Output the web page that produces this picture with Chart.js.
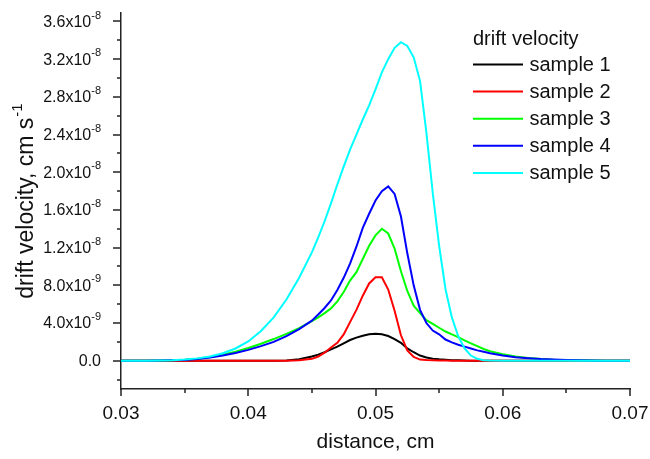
<!DOCTYPE html>
<html>
<head>
<meta charset="utf-8">
<script src="https://cdn.jsdelivr.net/npm/chart.js@4.4.1/dist/chart.umd.min.js"></script>
<style>
  body { margin: 0; background: #fff; }
  #chart { display: block; }
</style>
</head>
<body>
<canvas id="chart" width="650" height="459"></canvas>
<script>
// ---- data (velocity values in units of 1e-9 cm/s) ----
const distance = [0.030, 0.032, 0.034, 0.035, 0.036, 0.037, 0.038, 0.039, 0.040, 0.041,
  0.042, 0.043, 0.044, 0.045, 0.0455, 0.046, 0.0465, 0.047, 0.0475, 0.048,
  0.0485, 0.049, 0.0495, 0.050, 0.0505, 0.051, 0.0515, 0.052, 0.0525, 0.053,
  0.0535, 0.054, 0.0545, 0.055, 0.0555, 0.056, 0.0565, 0.057, 0.0575, 0.058,
  0.0585, 0.059, 0.060, 0.061, 0.062, 0.063, 0.064, 0.065, 0.066, 0.067,
  0.068, 0.070];

const sample1 = [0, 0, 0, 0, 0, 0, 0, 0, 0, 0,
  0.01, 0.03, 0.15, 0.45, 0.65, 0.9, 1.2, 1.5, 1.85, 2.2,
  2.45, 2.65, 2.8, 2.86, 2.8, 2.62, 2.3, 1.9, 1.3, 0.9,
  0.55, 0.35, 0.22, 0.15, 0.1, 0.06, 0.04, 0.02, 0.01, 0,
  0, 0, 0, 0, 0, 0, 0, 0, 0, 0,
  0, 0];

const sample2 = [0, 0, 0, 0, 0, 0, 0, 0, 0, 0,
  0, 0, 0.05, 0.2, 0.45, 0.85, 1.4, 1.9, 2.8, 4.1,
  5.4, 6.9, 8.2, 8.85, 8.85, 7.55, 5.3, 2.7, 1.1, 0.4,
  0.12, 0.07, 0.05, 0.03, 0.02, 0.01, 0, 0, 0, 0,
  0, 0, 0, 0, 0, 0, 0, 0, 0, 0,
  0, 0];

const sample3 = [0, 0.01, 0.05, 0.1, 0.22, 0.4, 0.65, 0.95, 1.35, 1.8,
  2.3, 2.85, 3.45, 4.2, 4.6, 5.05, 5.55, 6.3, 7.3, 8.5,
  9.4, 10.8, 12.2, 13.3, 14.0, 13.5, 11.9, 9.5, 7.4, 5.85,
  5.05, 4.3, 3.9, 3.5, 3.1, 2.8, 2.5, 2.15, 1.85, 1.55,
  1.25, 1.0, 0.7, 0.45, 0.3, 0.18, 0.11, 0.07, 0.04, 0.02,
  0.01, 0];

const sample4 = [0, 0.01, 0.05, 0.09, 0.18, 0.33, 0.55, 0.82, 1.15, 1.55,
  2.0, 2.6, 3.35, 4.25, 4.9, 5.6, 6.4, 7.5, 8.8, 10.3,
  12.1, 14.1, 15.6, 17.0, 18.0, 18.5, 17.7, 15.3, 11.4, 8.0,
  5.4, 4.0, 3.2, 2.8, 2.25, 1.95, 1.7, 1.5, 1.3, 1.1,
  0.95, 0.8, 0.55, 0.38, 0.27, 0.18, 0.12, 0.07, 0.04, 0.02,
  0.01, 0];

const sample5 = [0, 0.01, 0.06, 0.12, 0.25, 0.45, 0.8, 1.3, 2.05, 3.15,
  4.6, 6.5, 8.8, 11.5, 13.1, 14.8, 16.7, 18.7, 20.6, 22.4,
  24.0, 25.6, 27.1, 28.8, 30.6, 32.0, 33.2, 33.8, 33.4, 32.2,
  29.7, 24.2, 17.8, 12.2, 7.6, 4.6, 2.6, 1.3, 0.55, 0.2,
  0.06, 0.02, 0, 0, 0, 0, 0, 0, 0, 0,
  0, 0];

const seriesNames = ['sample 1', 'sample 2', 'sample 3', 'sample 4', 'sample 5'];
const seriesColors = ['#000000', '#ff0000', '#00ff00', '#0000ff', '#00ffff'];
const seriesValues = [sample1, sample2, sample3, sample4, sample5];
const UNIT = 1e-9;

// ---- axis ticks ----
const xMajorTicks = [0.03, 0.04, 0.05, 0.06, 0.07];
const xMinorTicks = [0.035, 0.045, 0.055, 0.065];
const xTickLabels = ['0.03', '0.04', '0.05', '0.06', '0.07'];
const yMajorTicks = [0, 4e-9, 8e-9, 1.2e-8, 1.6e-8, 2.0e-8, 2.4e-8, 2.8e-8, 3.2e-8, 3.6e-8];
const yMinorTicks = [-2e-9, 2e-9, 6e-9, 1.0e-8, 1.4e-8, 1.8e-8, 2.2e-8, 2.6e-8, 3.0e-8, 3.4e-8];
const yTickMantissa = ['0.0', '4.0', '8.0', '1.2', '1.6', '2.0', '2.4', '2.8', '3.2', '3.6'];
const yTickExponent = ['', '-9', '-9', '-8', '-8', '-8', '-8', '-8', '-8', '-8'];

const FONT = '"Liberation Sans", Arial, sans-serif';
const AXIS_COLOR = '#222';

const datasets = seriesNames.map((name, i) => ({
  label: name,
  data: distance.map((d, j) => ({ x: d, y: seriesValues[i][j] * UNIT })),
  borderColor: seriesColors[i],
  borderWidth: 2,
  pointRadius: 0,
  tension: 0,
  fill: false,
  order: seriesNames.length - i   // sample 5 ends up on top
}));

// ticks, labels, titles and legend are drawn by hand (superscripts)
const decor = {
  id: 'decor',
  afterDraw(chart) {
    const { ctx, chartArea: a, scales: { x, y } } = chart;
    ctx.save();
    ctx.strokeStyle = AXIS_COLOR;
    ctx.lineWidth = 1.5;

    const seg = (x1, y1, x2, y2) => {
      ctx.beginPath(); ctx.moveTo(x1, y1); ctx.lineTo(x2, y2); ctx.stroke();
    };

    xMajorTicks.forEach(v => { const p = Math.round(x.getPixelForValue(v)); seg(p, a.bottom, p, a.bottom + 7); });
    xMinorTicks.forEach(v => { const p = Math.round(x.getPixelForValue(v)); seg(p, a.bottom, p, a.bottom + 4); });
    yMajorTicks.forEach(v => { const p = Math.round(y.getPixelForValue(v)); seg(a.left, p, a.left - 8, p); });
    yMinorTicks.forEach(v => { const p = Math.round(y.getPixelForValue(v)); seg(a.left, p, a.left - 4, p); });

    ctx.fillStyle = '#111';

    // x tick labels
    ctx.font = '19px ' + FONT;
    ctx.textAlign = 'center';
    ctx.textBaseline = 'middle';
    xMajorTicks.forEach((v, i) => ctx.fillText(xTickLabels[i], x.getPixelForValue(v), a.bottom + 25));

    // y tick labels, mantissa x10 with superscript exponent
    const right = a.left - 20;
    yMajorTicks.forEach((v, i) => {
      const p = y.getPixelForValue(v);
      ctx.textBaseline = 'middle';
      if (!yTickExponent[i]) {
        ctx.font = '16px ' + FONT;
        ctx.textAlign = 'right';
        ctx.fillText(yTickMantissa[i], right, p + 1);
        return;
      }
      ctx.font = '11px ' + FONT;
      const supW = ctx.measureText(yTickExponent[i]).width;
      ctx.textAlign = 'left';
      ctx.fillText(yTickExponent[i], right - supW, p - 6);
      ctx.font = '16px ' + FONT;
      ctx.textAlign = 'right';
      ctx.fillText(yTickMantissa[i] + 'x10', right - supW, p + 1);
    });

    // x axis title
    ctx.font = '21px ' + FONT;
    ctx.textAlign = 'center';
    ctx.textBaseline = 'alphabetic';
    ctx.fillText('distance, cm', (a.left + a.right) / 2, 448);

    // y axis title, rotated
    ctx.save();
    ctx.translate(27, 201);
    ctx.rotate(-Math.PI / 2);
    ctx.font = '23px ' + FONT;
    const mainT = 'drift velocity, cm s';
    const mainW = ctx.measureText(mainT).width;
    ctx.font = '15px ' + FONT;
    const supT = '-1';
    const supW = ctx.measureText(supT).width + 1;
    const x0 = -(mainW + supW) / 2;
    ctx.textAlign = 'left';
    ctx.textBaseline = 'middle';
    ctx.font = '23px ' + FONT;
    ctx.fillText(mainT, x0, 0);
    ctx.font = '15px ' + FONT;
    ctx.fillText(supT, x0 + mainW + 1, -9);
    ctx.restore();

    // legend
    ctx.font = '20px ' + FONT;
    ctx.textAlign = 'left';
    ctx.textBaseline = 'alphabetic';
    ctx.fillText('drift velocity', 473, 45);
    ctx.textBaseline = 'middle';
    seriesNames.forEach((name, i) => {
      const ly = 64.5 + i * 27.1;
      ctx.strokeStyle = seriesColors[i];
      ctx.lineWidth = 2;
      seg(473, ly, 523, ly);
      ctx.fillStyle = '#111';
      ctx.fillText(name, 529.5, ly + 1);
    });
    ctx.restore();
  }
};

new Chart(document.getElementById('chart'), {
  type: 'line',
  data: { datasets },
  options: {
    responsive: false,
    animation: false,
    layout: { padding: { top: 13, right: 20, left: 0, bottom: 0 } },
    plugins: { legend: { display: false }, tooltip: { enabled: false } },
    scales: {
      x: {
        type: 'linear', min: 0.03, max: 0.07,
        grid: { display: false },
        border: { display: true, color: AXIS_COLOR, width: 1.5 },
        ticks: { display: false },
        afterFit: s => { s.height = 70; }
      },
      y: {
        type: 'linear', min: -3e-9, max: 3.69e-8,
        grid: { display: false },
        border: { display: true, color: AXIS_COLOR, width: 1.5 },
        ticks: { display: false },
        afterFit: s => { s.width = 121; }
      }
    }
  },
  plugins: [decor]
});
</script>
</body>
</html>
